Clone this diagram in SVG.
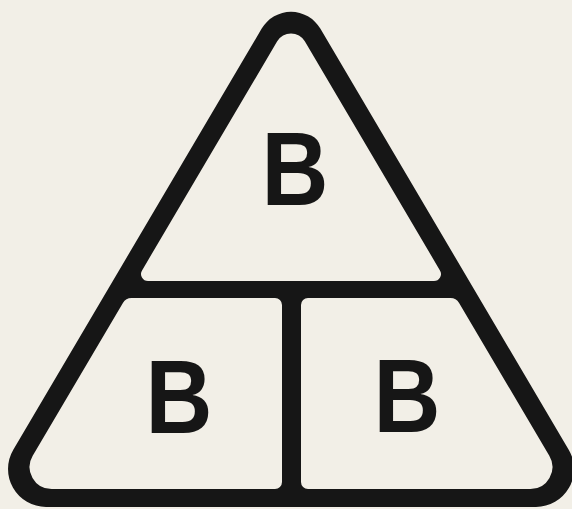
<svg xmlns="http://www.w3.org/2000/svg" width="572" height="509" viewBox="0 0 572 509">
<style>
.bg{fill:#f2efe7}
.frame{fill:#161616}
.cell{fill:#f2efe7}
.lbl{font-family:"Liberation Sans",Arial,sans-serif;font-weight:bold;font-size:103px;fill:#161616;text-anchor:middle}
</style>
<rect class="bg" x="0" y="0" width="572" height="509"/>
<g id="frame">
<path class="frame" d="M261.7,28.6 A34,34 0 0 1 320.3,28.6 L568.7,449.7 A38,38 0 0 1 536,507 L46,507 A38,38 0 0 1 13.3,449.7 Z"/>
</g>
<g id="top">
<path class="cell" d="M277.2,41.3 A16,16 0 0 1 304.8,41.3 L439.95,270.4 A7,7 0 0 1 433.9,281 L148.1,281 A7,7 0 0 1 142.05,270.4 Z"/>
<text class="lbl" transform="translate(295,205) scale(0.9,1)">B</text>
</g>
<g id="left">
<path class="cell" d="M131.5,298 L275,298 A7,7 0 0 1 282,305 L282,482 A7,7 0 0 1 275,489 L51.6,489 A22,22 0 0 1 32.7,455.8 L122.9,302.9 A10,10 0 0 1 131.5,298 Z"/>
<text class="lbl" transform="translate(179,433) scale(0.9,1)">B</text>
</g>
<g id="right">
<path class="cell" d="M301,305 A7,7 0 0 1 308,298 L450.5,298 A10,10 0 0 1 459.1,302.9 L549.3,455.8 A22,22 0 0 1 530.4,489 L308,489 A7,7 0 0 1 301,482 Z"/>
<text class="lbl" transform="translate(407,432) scale(0.9,1)">B</text>
</g>
<g id="connectors"></g>
</svg>
